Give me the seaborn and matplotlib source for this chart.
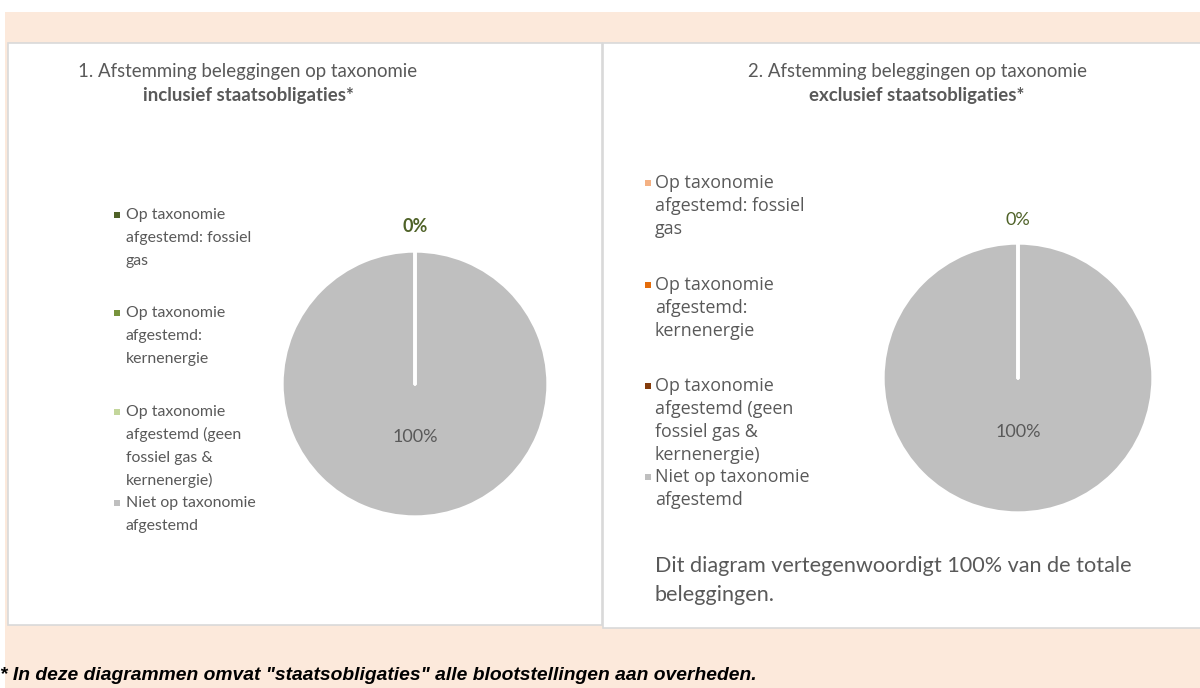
import numpy as np
import matplotlib.pyplot as plt
from matplotlib.patches import Rectangle
import seaborn as sns

# Data
# --------------
categories = [
    "Op taxonomie afgestemd: fossiel gas",
    "Op taxonomie afgestemd: kernenergie",
    "Op taxonomie afgestemd (geen fossiel gas & kernenergie)",
    "Niet op taxonomie afgestemd",
]
labels_left = [
    "Op taxonomie\nafgestemd: fossiel\ngas",
    "Op taxonomie\nafgestemd:\nkernenergie",
    "Op taxonomie\nafgestemd (geen\nfossiel gas &\nkernenergie)",
    "Niet op taxonomie\nafgestemd",
]
labels_right = labels_left
values_incl = [0, 0, 0, 100]
values_excl = [0, 0, 0, 100]

colors_incl = ["#4F6228", "#77933C", "#C3D69B", "#BFBFBF"]
colors_excl = ["#F4B183", "#E46C0A", "#843C0C", "#BFBFBF"]

title_incl = ("1. Afstemming beleggingen op taxonomie", "inclusief staatsobligaties*")
title_excl = ("2. Afstemming beleggingen op taxonomie", "exclusief staatsobligaties*")
note = "Dit diagram vertegenwoordigt 100% van de totale\nbeleggingen."
footnote = '* In deze diagrammen omvat "staatsobligaties" alle blootstellingen aan overheden.'

# Set-up
# --------------
sns.set_theme(style="white")
plt.rcParams["font.family"] = ["Lato", "DejaVu Sans"]

W, H = 1200, 688
TEXT = "#595959"
fig = plt.figure(figsize=(W / 100, H / 100), dpi=100, facecolor="white")


def fx(x):
    return x / W


def fy(y):
    return 1 - y / H


def box(x0, y0, x1, y1, face, edge="none", lw=0, z=0):
    fig.patches.append(Rectangle((fx(x0), fy(y1)), fx(x1 - x0), (y1 - y0) / H,
                                 transform=fig.transFigure, facecolor=face,
                                 edgecolor=edge, linewidth=lw, zorder=z))


# Background and panels
box(5, 12, 1200, 688, "#FCE9DB")
box(8, 43, 602, 625, "white", "#D9D9D9", 1.2, z=1)
box(603, 43, 1203, 628, "white", "#D9D9D9", 1.2, z=1)


def draw_pie(values, colors, cx, cy, r, top_bold, lbl_gap):
    ax = fig.add_axes([fx(cx - r), fy(cy + r), 2 * r / W, 2 * r / H], zorder=5)
    ax.patch.set_visible(False)
    wedges, _ = ax.pie(values, colors=colors, startangle=90, counterclock=False,
                       wedgeprops=dict(edgecolor="white", linewidth=2.4))
    # empty slices collapse to a white separator line; keep it above the full slice
    for w, v in zip(wedges, values):
        if v == 0:
            w.set_zorder(3)
            w.set_capstyle("round")
    ax.set_xlim(-1, 1)
    ax.set_ylim(-1, 1)
    ax.axis("off")
    total = sum(values)
    # zero slices sit at the top, the full slice label sits below the centre
    ax.text(0, 1 + lbl_gap / r, f"{values[0] / total:.0%}", ha="center", va="center",
            color="#4F6228", fontsize=13, fontweight="bold" if top_bold else "normal",
            clip_on=False)
    ax.text(0, -0.4, f"{values[-1] / total:.0%}", ha="center", va="center",
            color=TEXT, fontsize=13)
    return ax


draw_pie(values_incl, colors_incl, 415, 384, 133, True, 25)
draw_pie(values_excl, colors_excl, 1018, 378, 135, False, 23)

# Titles
for (line1, line2), x in [(title_incl, 248), (title_excl, 917)]:
    fig.text(fx(x), fy(72), line1, ha="center", va="center", fontsize=13.4, color=TEXT)
    fig.text(fx(x), fy(95), line2, ha="center", va="center", fontsize=13.4,
             color=TEXT, fontweight="bold")


# Legends
def legend(labels, colors, x_mark, x_text, y_starts, size, step, family):
    for lab, col, y0 in zip(labels, colors, y_starts):
        for i, line in enumerate(lab.split("\n")):
            fig.text(fx(x_text), fy(y0 + i * step), line, ha="left", va="center",
                     fontsize=size, color=TEXT, family=family)
        box(x_mark - 3, y0 - 3, x_mark + 3, y0 + 3, col, z=2)


legend(labels_left, colors_incl, 117, 126, [215, 313, 412, 503], 11.4, 22.8,
       ["Lato", "DejaVu Sans"])
legend(labels_right, colors_excl, 648, 655, [183, 285, 386, 477], 12.9, 23,
       ["Open Sans", "DejaVu Sans"])

fig.text(fx(655), fy(566), note.split("\n")[0], ha="left", va="center", fontsize=15.6, color=TEXT)
fig.text(fx(655), fy(595), note.split("\n")[1], ha="left", va="center", fontsize=15.6, color=TEXT)

fig.text(fx(0), fy(676), footnote, ha="left", va="center", fontsize=13.9,
         fontweight="bold", fontstyle="italic", color="black",
         family=["Liberation Sans", "DejaVu Sans"])

# Rendering
# --------------
fig.savefig("out.png", dpi=100, facecolor="white")
